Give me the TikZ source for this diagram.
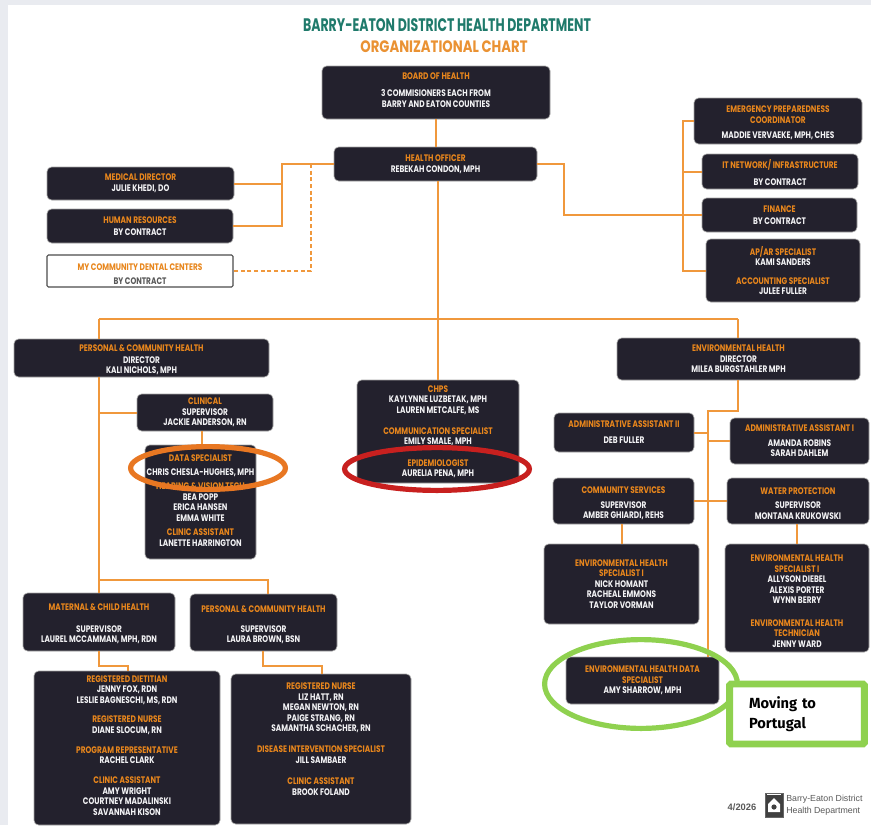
\documentclass[tikz,border=0pt]{standalone}
\usepackage{fontspec}
\usetikzlibrary{shapes.geometric}
\setmainfont{Liberation Sans}
\newfontfamily\labfont[FakeStretch=0.78]{Poppins}
\newfontfamily\titlefont[FakeStretch=0.69]{Poppins}
\newfontfamily\subfont[FakeStretch=0.8]{Poppins}
\newfontfamily\notefont{Fira Sans}
\definecolor{boxfill}{HTML}{23212D}
\definecolor{hcol}{HTML}{E8861C}
\definecolor{wirecol}{HTML}{F0983C}
\definecolor{namecol}{HTML}{F2F2F4}
\definecolor{pagegrey}{HTML}{E9EBF0}
\definecolor{titlegreen}{HTML}{1F7A6B}
\definecolor{ringorange}{HTML}{E87722}
\definecolor{ringred}{HTML}{C8201F}
\definecolor{ringgreen}{HTML}{8FD14F}
\newcommand\HH[1]{{\color{hcol}\bfseries #1}}
\newcommand\NN[1]{{\color{namecol}\bfseries #1}}
\newcommand\DN[1]{{\color{black!65}\bfseries #1}}
\newcommand\PRE[1]{\mbox{}\\[\dimexpr #1pt-7.9pt\relax]}
\newcommand\ADD[1]{\\[\dimexpr #1pt-7.9pt\relax]\mbox{}}
% \bx[style]{name}{x1}{y1}{x2}{y2}{content}
\newcommand\bx[7][orgbox]{%
  \pgfmathsetmacro\bxw{(#5-#3)*0.75}%
  \pgfmathsetmacro\bxh{(#6-#4)*0.75}%
  \node[#1,minimum width=\bxw pt,minimum height=\bxh pt] (#2) at ({(#3+#5)/2},{(#4+#6)/2}) {#7};}
\newcommand\ring[6]{%
  \pgfmathsetmacro\rw{(#4)*1.5}%
  \pgfmathsetmacro\rh{(#5)*1.5}%
  \node[ellipse,draw=#6,line width=3.9pt,inner sep=0pt,outer sep=0pt,minimum width=\rw pt-3.9pt,minimum height=\rh pt-3.9pt] (#1) at (#2,#3) {};}
\tikzset{
  orgbox/.style={draw=black!35,line width=.5pt,fill=boxfill,rounded corners=3.5pt,inner sep=0pt,align=center,
    font=\labfont\fontsize{7.1}{7.9}\selectfont},
  whitebox/.style={orgbox,fill=white,draw=black!70,line width=.8pt,rounded corners=1pt},
  wire/.style={draw=wirecol,line width=1.5pt},
  dashwire/.style={draw=wirecol,line width=1.4pt,dash pattern=on 3pt off 2pt},
}
\begin{document}
\begin{tikzpicture}[x=0.75pt,y=-0.75pt]
\useasboundingbox (0,0) rectangle (871,825);
\fill[white] (0,0) rectangle (871,825);
\fill[pagegrey] (0,0) rectangle (871,5);
\fill[pagegrey] (0,0) rectangle (8,825);
% titles
\node[font=\titlefont\bfseries\fontsize{13.6}{15}\selectfont,text=titlegreen,inner sep=0pt] (title) at (447,25) {BARRY-EATON DISTRICT HEALTH DEPARTMENT};
\node[font=\subfont\bfseries\fontsize{12.4}{13}\selectfont,text=hcol!90!white,inner sep=0pt] (subtitle) at (444,47) {ORGANIZATIONAL CHART};
% junctions
\coordinate (trunk) at (438,319);
\coordinate (lefttrunk) at (99,319);
\coordinate (righttrunk) at (738,319);
\coordinate (lbus) at (282,163);
\coordinate (dbus) at (311,163);
\coordinate (rbus) at (564,163);
\coordinate (sbus) at (683,215);
\coordinate (ebus) at (708,411);
\coordinate (sup2) at (268,580);
\coordinate (sup1) at (99,580);
\coordinate (d1) at (99,666);
\coordinate (d2) at (128,666);
\coordinate (n1) at (263,666);
\coordinate (n2) at (322,666);
\coordinate (cl) at (202,431);
\coordinate (cs) at (622,524);
\coordinate (wp) at (797,524);
% boxes
\bx{board}{322}{66}{550}{119}{\HH{BOARD OF HEALTH}\\[5.5pt]\NN{3 COMMISIONERS EACH FROM}\\\NN{BARRY AND EATON COUNTIES}\ADD{4}}
\bx{officer}{334}{147}{537}{181}{\HH{HEALTH OFFICER}\\\NN{REBEKAH CONDON, MPH}}
\bx{medical}{47}{167}{234}{200}{\HH{MEDICAL DIRECTOR}\\\NN{JULIE KHEDI, DO}}
\bx{hr}{47}{209}{233}{243}{\HH{HUMAN RESOURCES}\\[1pt]\NN{BY CONTRACT}}
\bx[whitebox]{dental}{47}{255}{233}{287}{\PRE{10}\HH{MY COMMUNITY DENTAL CENTERS}\\[2.5pt]\DN{BY CONTRACT}}
\bx{emerg}{694}{98}{862}{144}{\PRE{8}\HH{EMERGENCY PREPAREDNESS}\\\HH{COORDINATOR}\\[4pt]\NN{MADDIE VERVAEKE, MPH, CHES}}
\bx{it}{702}{154}{858}{189}{\PRE{8}\HH{IT NETWORK/ INFRASTRUCTURE}\\[5pt]\NN{BY CONTRACT}}
\bx{finance}{702}{198}{857}{232}{\HH{FINANCE}\\[1pt]\NN{BY CONTRACT}}
\bx{apar}{706}{239}{860}{302}{\HH{AP/AR SPECIALIST}\\\NN{KAMI SANDERS}\\[6pt]\HH{ACCOUNTING SPECIALIST}\\\NN{JULEE FULLER}}
\bx{pch}{14}{339}{269}{377}{\PRE{8}\HH{PERSONAL \& COMMUNITY HEALTH}\\[1pt]\NN{DIRECTOR}\\\NN{KALI NICHOLS, MPH}}
\bx{clinical}{137}{394}{273}{431}{\HH{CLINICAL}\\\NN{SUPERVISOR}\\\NN{JACKIE ANDERSON, RN}}
\bx{data}{145}{445}{256}{559}{\HH{DATA SPECIALIST}\\[2.5pt]\NN{CHRIS CHESLA-HUGHES, MPH}\\[2.5pt]\HH{HEARING \& VISION TECH}\\\NN{BEA POPP}\\\NN{ERICA HANSEN}\\\NN{EMMA WHITE}\\[3pt]\HH{CLINIC ASSISTANT}\\\NN{LANETTE HARRINGTON}\ADD{2}}
\bx{chps}{357}{380}{519}{483}{\HH{CHPS}\\\NN{KAYLYNNE LUZBETAK, MPH}\\\NN{LAUREN METCALFE, MS}\\[8pt]\HH{COMMUNICATION SPECIALIST}\\\NN{EMILY SMALE, MPH}\\[8pt]\HH{EPIDEMIOLOGIST}\\\NN{AURELIA PENA, MPH}}
\bx{env}{617}{338}{860}{380}{\HH{ENVIRONMENTAL HEALTH}\\\NN{DIRECTOR}\\\NN{MILEA BURGSTAHLER MPH}}
\bx{adm2}{554}{413}{694}{452}{\HH{ADMINISTRATIVE ASSISTANT II}\\[4pt]\NN{DEB FULLER}}
\bx{adm1}{730}{418}{869}{464}{\HH{ADMINISTRATIVE ASSISTANT I}\\[3pt]\NN{AMANDA ROBINS}\\\NN{SARAH DAHLEM}}
\bx{comm}{553}{478}{694}{524}{\PRE{9}\HH{COMMUNITY SERVICES}\\[3pt]\NN{SUPERVISOR}\\\NN{AMBER GHIARDI, REHS}}
\bx{water}{727}{478}{869}{524}{\PRE{9}\HH{WATER PROTECTION}\\[3pt]\NN{SUPERVISOR}\\\NN{MONTANA KRUKOWSKI}}
\bx{ehs}{544}{544}{699}{624}{\HH{ENVIRONMENTAL HEALTH}\\\HH{SPECIALIST I}\\\NN{NICK HOMANT}\\\NN{RACHEAL EMMONS}\\\NN{TAYLOR VORMAN}}
\bx{ehs2}{725}{544}{869}{652}{\PRE{10}\HH{ENVIRONMENTAL HEALTH}\\\HH{SPECIALIST I}\\\NN{ALLYSON DIEBEL}\\\NN{ALEXIS PORTER}\\\NN{WYNN BERRY}\\[9pt]\HH{ENVIRONMENTAL HEALTH}\\\HH{TECHNICIAN}\\\NN{JENNY WARD}}
\bx{ehd}{566}{657}{719}{704}{\HH{ENVIRONMENTAL HEALTH DATA}\\\HH{SPECIALIST}\\\NN{AMY SHARROW, MPH}}
\bx{mch}{23}{593}{175}{651}{\PRE{8}\HH{MATERNAL \& CHILD HEALTH}\\[8pt]\NN{SUPERVISOR}\\\NN{LAUREL MCCAMMAN, MPH, RDN}}
\bx{pcs}{190}{594}{337}{651}{\PRE{8.5}\HH{PERSONAL \& COMMUNITY HEALTH}\\[7pt]\NN{SUPERVISOR}\\\NN{LAURA BROWN, BSN}}
\bx{diet}{34}{671}{220}{825}{\HH{REGISTERED DIETITIAN}\\\NN{JENNY FOX, RDN}\\\NN{LESLIE BAGNESCHI, MS, RDN}\\[7pt]\HH{REGISTERED NURSE}\\\NN{DIANE SLOCUM, RN}\\[7pt]\HH{PROGRAM REPRESENTATIVE}\\\NN{RACHEL CLARK}\\[7pt]\HH{CLINIC ASSISTANT}\\\NN{AMY WRIGHT}\\\NN{COURTNEY MADALINSKI}\\\NN{SAVANNAH KISON}\ADD{4}}
\bx{nurse}{231}{674}{411}{824}{\HH{REGISTERED NURSE}\\\NN{LIZ HATT, RN}\\\NN{MEGAN NEWTON, RN}\\\NN{PAIGE STRANG, RN}\\\NN{SAMANTHA SCHACHER, RN}\\[8pt]\HH{DISEASE INTERVENTION SPECIALIST}\\\NN{JILL SAMBAER}\\[8pt]\HH{CLINIC ASSISTANT}\\\NN{BROOK FOLAND}\ADD{15}}
% connectors
\draw[wire] (board.south) -- (board.south |- officer.north);
\draw[wire] (officer.south -| trunk) -- (chps.north -| trunk);
\draw[wire] (lefttrunk) -- (righttrunk);
\draw[wire] (lefttrunk) -- (pch.north -| lefttrunk);
\draw[wire] (pch.south -| lefttrunk) -- (mch.north -| lefttrunk);
\draw[wire] (righttrunk) -- (env.north -| righttrunk);
\draw[wire] (clinical.west) -- (clinical.west -| lefttrunk);
\draw[wire] (clinical.south -| cl) -- (data.north -| cl);
\draw[wire] (sup1) -- (sup2) -- (pcs.north -| sup2);
\draw[wire] (mch.south -| d1) -- (d1) -- (d2) -- (diet.north -| d2);
\draw[wire] (pcs.south -| n1) -- (n1) -- (n2) -- (nurse.north -| n2);
\draw[wire] (officer.west) -- (lbus |- officer.west) -- (lbus |- hr.east) -- (hr.east);
\draw[wire] (medical.east) -- (lbus |- medical.east);
\draw[dashwire] (dbus |- officer.west) -- (dbus |- dental.east) -- (dental.east);
\draw[wire] (officer.east) -- (rbus |- officer.east) -- (rbus |- finance.west) -- (finance.west);
\draw[wire] (emerg.west) -- (sbus |- emerg.west) -- (sbus |- apar.west) -- (apar.west);
\draw[wire] (it.west) -- (sbus |- it.west);
\draw[wire] (env.south -| righttrunk) -- (ebus -| righttrunk) -- (ebus) -- (ehd.north -| ebus);
\draw[wire] (adm2.east) -- (adm2.east -| ebus);
\draw[wire] (adm1.west) -- (adm1.west -| ebus);
\draw[wire] (comm.east) -- (water.west);
\draw[wire] (comm.south -| cs) -- (ehs.north -| cs);
\draw[wire] (water.south -| wp) -- (ehs2.north -| wp);
% highlight rings
\ring{ringdata}{208}{468}{80}{24}{ringorange}
\ring{ringepi}{437}{469}{95}{24}{ringred}
\ring{ringehd}{641}{684}{99}{47}{ringgreen}
\node[draw=ringgreen,line width=5.2pt,fill=white,rounded corners=1pt,minimum width=101pt,minimum height=45pt,inner sep=0pt,align=left,text width=72pt,font=\notefont\bfseries\fontsize{11}{15}\selectfont] (note) at (797,714) {Moving to\\Portugal};
% footer
\node[font=\bfseries\fontsize{7}{8}\selectfont,text=black!65,inner sep=0pt] (date) at (742,807) {4/2026};
\node[draw=black!60,fill=black!75,inner sep=0pt,minimum width=13.5pt,minimum height=18pt] (logo) at (774,805) {};
\fill[white] (768,804) -- (774,798) -- (780,804) -- (780,812) -- (768,812) -- cycle;
\fill[black!75] (774,807) circle (2.6);
\fill[white] (767,794) rectangle (781,795);
\node[font=\fontsize{6.6}{8.6}\selectfont,text=black!65,align=left,anchor=west,inner sep=0pt] (org) at (786,805) {Barry-Eaton District\\Health Department};
\end{tikzpicture}
\end{document}
